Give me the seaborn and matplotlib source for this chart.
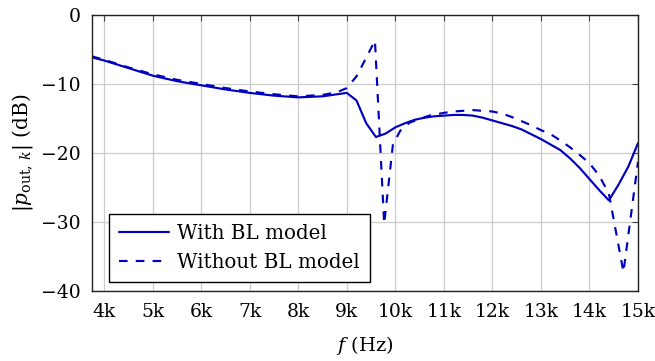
import numpy as np
import pandas as pd
import matplotlib
matplotlib.use("Agg")
import matplotlib.pyplot as plt
import seaborn as sns

# ---- data ----
freq_with = [3750, 4000, 4500, 5000, 5500, 6000, 6500, 7000, 7500, 8000, 8500, 8800,
             9000, 9200, 9400, 9600, 9800, 10000, 10200, 10400, 10600, 10800, 11000,
             11200, 11400, 11600, 11800, 12000, 12200, 12400, 12600, 12800, 13000,
             13200, 13400, 13600, 13800, 14000, 14200, 14400, 14600, 14800, 15000]
p_with = [-6.15, -6.6, -7.7, -8.8, -9.6, -10.2, -10.8, -11.3, -11.7, -11.95, -11.8, -11.5,
          -11.3, -12.4, -15.7, -17.7, -17.2, -16.3, -15.7, -15.2, -14.9, -14.7, -14.6,
          -14.5, -14.5, -14.6, -14.9, -15.3, -15.7, -16.1, -16.6, -17.3, -18.0,
          -18.8, -19.6, -20.8, -22.2, -23.8, -25.4, -26.9, -24.6, -22.0, -18.6]

freq_without = [3750, 4000, 4500, 5000, 5500, 6000, 6500, 7000, 7500, 8000, 8500, 8800,
                9000, 9200, 9400, 9580, 9770, 9950, 10100, 10300, 10500, 10700, 11000,
                11200, 11400, 11600, 11800, 12000, 12200, 12400, 12600, 12800, 13000,
                13200, 13400, 13600, 13800, 14000, 14200, 14400, 14700, 15000]
p_without = [-6.0, -6.5, -7.6, -8.6, -9.4, -10.0, -10.6, -11.1, -11.5, -11.8, -11.6, -11.2,
             -10.6, -8.9, -6.2, -3.7, -30.3, -18.8, -16.8, -15.6, -15.1, -14.6, -14.2,
             -14.0, -13.9, -13.8, -13.9, -14.0, -14.3, -14.8, -15.4, -16.0, -16.7,
             -17.3, -18.2, -19.2, -20.3, -21.5, -23.3, -25.9, -37.3, -21.3]

x_ticks = [4000, 5000, 6000, 7000, 8000, 9000, 10000, 11000, 12000, 13000, 14000, 15000]
x_tick_labels = ["4k", "5k", "6k", "7k", "8k", "9k", "10k", "11k", "12k", "13k", "14k", "15k"]
y_ticks = [0, -10, -20, -30, -40]

label_with = "With BL model"
label_without = "Without BL model"

df_with = pd.DataFrame({"f": freq_with, "p": p_with})
df_without = pd.DataFrame({"f": freq_without, "p": p_without})

# ---- style ----
sns.set_theme(style="white")
plt.rcParams["font.family"] = ["DejaVu Serif"]
plt.rcParams["mathtext.fontset"] = "dejavuserif"
plt.rcParams["axes.unicode_minus"] = True
plt.rcParams["text.color"] = "black"

color = (0.0, 0.0, 0.75)

fig = plt.figure(figsize=(6.55, 3.61), dpi=100)
ax = fig.add_axes([92 / 655, 1 - 290.7 / 361, (638 - 92) / 655, (290.7 - 15) / 361])

sns.lineplot(data=df_with, x="f", y="p", ax=ax, color=color, lw=1.55,
             sort=False, estimator=None, label=label_with)
sns.lineplot(data=df_without, x="f", y="p", ax=ax, color=color, lw=1.55,
             sort=False, estimator=None, label=label_without, linestyle=(0, (4.0, 3.8)))

ax.set_xlim(3750, 15000)
ax.set_ylim(-40, 0)
ax.set_xticks(x_ticks)
ax.set_xticklabels(x_tick_labels)
ax.set_yticks(y_ticks)

ax.grid(True, color="#cccccc", lw=0.9)
ax.set_axisbelow(True)
for s in ax.spines.values():
    s.set_color("#222222")
    s.set_linewidth(1.0)

ax.tick_params(axis="both", which="both", direction="in", length=4, width=0.8,
               color="#444444", top=True, right=True, labelsize=13.5,
               labelcolor="black")
ax.tick_params(axis="x", pad=9)
ax.tick_params(axis="y", pad=8)

ax.set_xlabel(r"$f$ (Hz)", fontsize=14, color="black")
ax.set_ylabel(r"$|p_{\mathrm{out},\,k}|$ (dB)", fontsize=14.5, color="black")
ax.xaxis.set_label_coords(0.5, (290.7 - 334) / 275.7)
ax.yaxis.set_label_coords((35 - 92) / 546, 0.5)

leg = ax.legend(loc="lower left", bbox_to_anchor=(0.031, 0.0316), borderaxespad=0,
                fontsize=14.3, fancybox=False, framealpha=1, edgecolor="black",
                handlelength=2.5, handletextpad=0.45, labelspacing=0.5, borderpad=0.5)
leg.get_frame().set_linewidth(1.0)
for t in leg.get_texts():
    t.set_color("black")

fig.savefig("out.png", dpi=100)
